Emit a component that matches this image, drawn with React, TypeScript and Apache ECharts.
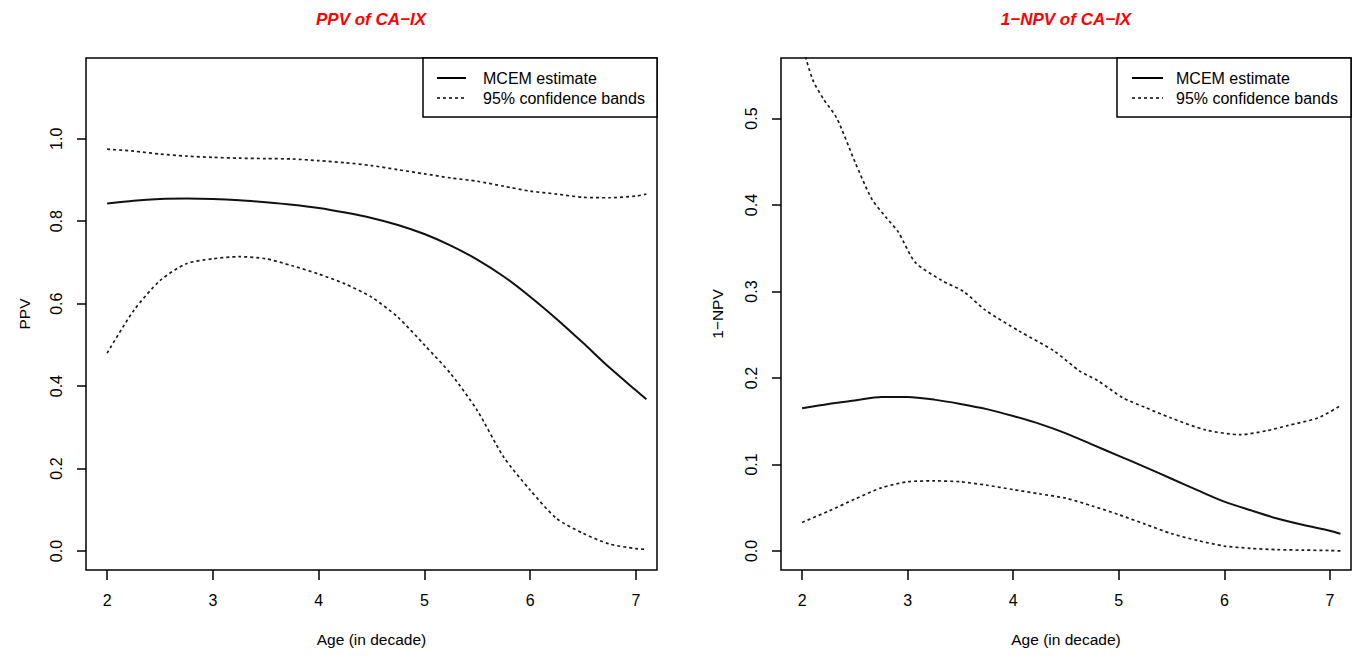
import React, { useEffect, useRef } from "react";
import * as echarts from "echarts";

// ---- Data ----
const ageGrid = [2.0, 2.25, 2.5, 2.75, 3.0, 3.25, 3.5, 3.75, 4.0, 4.25, 4.5, 4.75, 5.0, 5.25, 5.5, 5.75, 6.0, 6.25, 6.5, 6.75, 7.0, 7.1];

const ppvEstimate = [0.843, 0.85, 0.854, 0.855, 0.854, 0.851, 0.846, 0.84, 0.832, 0.821, 0.808, 0.791, 0.769, 0.741, 0.707, 0.666, 0.617, 0.563, 0.505, 0.445, 0.39, 0.368];
const ppvUpper = [0.975, 0.97, 0.963, 0.958, 0.955, 0.953, 0.952, 0.951, 0.947, 0.942, 0.935, 0.925, 0.915, 0.905, 0.897, 0.885, 0.873, 0.866, 0.858, 0.857, 0.861, 0.866];
const ppvLower = [0.48, 0.583, 0.656, 0.697, 0.709, 0.714, 0.709, 0.692, 0.672, 0.648, 0.616, 0.567, 0.5, 0.43, 0.341, 0.228, 0.148, 0.079, 0.043, 0.017, 0.006, 0.004];

const npvEstimate = [0.165, 0.17, 0.174, 0.178, 0.178, 0.175, 0.17, 0.164, 0.156, 0.147, 0.136, 0.123, 0.11, 0.097, 0.0835, 0.07, 0.057, 0.047, 0.0375, 0.03, 0.0234, 0.02];
const npvLower = [0.033, 0.046, 0.06, 0.073, 0.08, 0.081, 0.08, 0.076, 0.071, 0.066, 0.061, 0.052, 0.042, 0.031, 0.02, 0.012, 0.0057, 0.003, 0.0015, 0.001, 0.0005, 0.0];
const npvUpperAge = [2.0, 2.1, 2.2, 2.33, 2.5, 2.66, 2.8, 2.91, 3.07, 3.32, 3.53, 3.73, 4.06, 4.39, 4.63, 4.8, 5.04, 5.25, 5.49, 5.82, 6.15, 6.4, 6.6, 6.89, 7.1];
const npvUpper = [0.585, 0.545, 0.523, 0.5, 0.45, 0.407, 0.385, 0.369, 0.334, 0.313, 0.3, 0.279, 0.254, 0.231, 0.208, 0.197, 0.177, 0.166, 0.154, 0.14, 0.1345, 0.139, 0.145, 0.154, 0.168];

const xTicks = [2, 3, 4, 5, 6, 7];
const ppvTicks = [0, 0.2, 0.4, 0.6, 0.8, 1.0];
const npvTicks = [0, 0.1, 0.2, 0.3, 0.4, 0.5];

const titles = ["PPV of CA\u2212IX", "1\u2212NPV of CA\u2212IX"];
const yNames = ["PPV", "1\u2212NPV"];
const xName = "Age (in decade)";
const legendLabels = ["MCEM estimate", "95% confidence bands"];

const FONT = '"Liberation Sans", Arial, Helvetica, sans-serif';

const pairs = (xs: number[], ys: number[]) => xs.map((x, i) => [x, ys[i]]);

function legendGraphic(boxX: number, boxRight: number, lineX1: number, lineX2: number, textX: number) {
  const top = 58;
  const bottom = 117;
  return [
    {
      type: "rect",
      z: 100,
      shape: { x: boxX, y: top, width: boxRight - boxX, height: bottom - top },
      style: { fill: "#fff", stroke: "#000", lineWidth: 1.5 },
    },
    {
      type: "line",
      z: 101,
      shape: { x1: lineX1, y1: 78, x2: lineX2, y2: 78 },
      style: { stroke: "#000", lineWidth: 2 },
    },
    {
      type: "line",
      z: 101,
      shape: { x1: lineX1, y1: 98, x2: lineX2, y2: 98 },
      style: { stroke: "#000", lineWidth: 1.7, lineDash: [3, 3] },
    },
    {
      type: "text",
      z: 101,
      x: textX,
      y: 78,
      style: { text: legendLabels[0], fill: "#000", font: `16px ${FONT}`, verticalAlign: "middle", align: "left" },
    },
    {
      type: "text",
      z: 101,
      x: textX,
      y: 98,
      style: { text: legendLabels[1], fill: "#000", font: `16px ${FONT}`, verticalAlign: "middle", align: "left" },
    },
  ];
}

function xAxisDef(gridIndex: number) {
  return {
    type: "value",
    gridIndex,
    min: 1.8,
    max: 7.2,
    name: xName,
    nameLocation: "middle",
    nameGap: 61,
    nameTextStyle: { fontSize: 15.5, color: "#000", fontFamily: FONT },
    axisLine: { show: false, onZero: false },
    splitLine: { show: false },
    axisTick: { show: true, inside: false, length: 10, customValues: xTicks, lineStyle: { color: "#000", width: 1.5 } },
    axisLabel: { show: true, margin: 22, customValues: xTicks, fontSize: 16, color: "#000", fontFamily: FONT, formatter: (v: number) => String(v) },
  };
}

function yAxisDef(gridIndex: number, min: number, max: number, ticks: number[], name: string, nameGap: number) {
  return {
    type: "value",
    gridIndex,
    min,
    max,
    name,
    nameLocation: "middle",
    nameGap,
    nameRotate: 90,
    nameTextStyle: { fontSize: 15.5, color: "#000", fontFamily: FONT },
    axisLine: { show: false, onZero: false },
    splitLine: { show: false },
    axisTick: { show: true, inside: false, length: 9, customValues: ticks, lineStyle: { color: "#000", width: 1.5 } },
    axisLabel: {
      show: true,
      margin: 22,
      rotate: 90,
      customValues: ticks,
      fontSize: 16,
      color: "#000",
      fontFamily: FONT,
      formatter: (v: number) => v.toFixed(1),
    },
  };
}

function lineSeries(xAxisIndex: number, data: number[][], dotted: boolean) {
  return {
    type: "line",
    xAxisIndex,
    yAxisIndex: xAxisIndex,
    data,
    showSymbol: false,
    symbol: "none",
    smooth: 0.25,
    clip: true,
    silent: true,
    lineStyle: dotted
      ? { color: "#1a1a1a", width: 1.7, type: [3, 3] }
      : { color: "#111", width: 2, type: "solid" },
  };
}

export default function App() {
  const ref = useRef<HTMLDivElement>(null);

  useEffect(() => {
    if (!ref.current) return;
    const chart = echarts.init(ref.current, null, { renderer: "svg" });
    const option = {
      animation: false,
      backgroundColor: "#fff",
      grid: [
        { left: 86, top: 58, width: 571, height: 512, show: true, borderColor: "#000", borderWidth: 1.5, backgroundColor: "transparent" },
        { left: 781, top: 58, width: 570, height: 512, show: true, borderColor: "#000", borderWidth: 1.5, backgroundColor: "transparent" },
      ],
      xAxis: [xAxisDef(0), xAxisDef(1)],
      yAxis: [
        yAxisDef(0, -0.046, 1.196, ppvTicks, yNames[0], 54),
        yAxisDef(1, -0.022, 0.57, npvTicks, yNames[1], 56),
      ],
      series: [
        lineSeries(0, pairs(ageGrid, ppvEstimate), false),
        lineSeries(0, pairs(ageGrid, ppvUpper), true),
        lineSeries(0, pairs(ageGrid, ppvLower), true),
        lineSeries(1, pairs(ageGrid, npvEstimate), false),
        lineSeries(1, pairs(npvUpperAge, npvUpper), true),
        lineSeries(1, pairs(ageGrid, npvLower), true),
      ],
      graphic: [
        {
          type: "text",
          x: 371,
          y: 19,
          style: { text: titles[0], fill: "#ff0000", font: `italic bold 17px ${FONT}`, align: "center", verticalAlign: "middle" },
        },
        {
          type: "text",
          x: 1066,
          y: 19,
          style: { text: titles[1], fill: "#ff0000", font: `italic bold 17px ${FONT}`, align: "center", verticalAlign: "middle" },
        },
        ...legendGraphic(423, 657, 437, 466, 483),
        ...legendGraphic(1117, 1351, 1132, 1163, 1176),
      ],
    };
    chart.setOption(option as any);
    return () => chart.dispose();
  }, []);

  return (
    <div
      ref={ref}
      style={{ position: "fixed", left: 0, top: 0, width: 1361, height: 658, background: "#fff" }}
    />
  );
}
